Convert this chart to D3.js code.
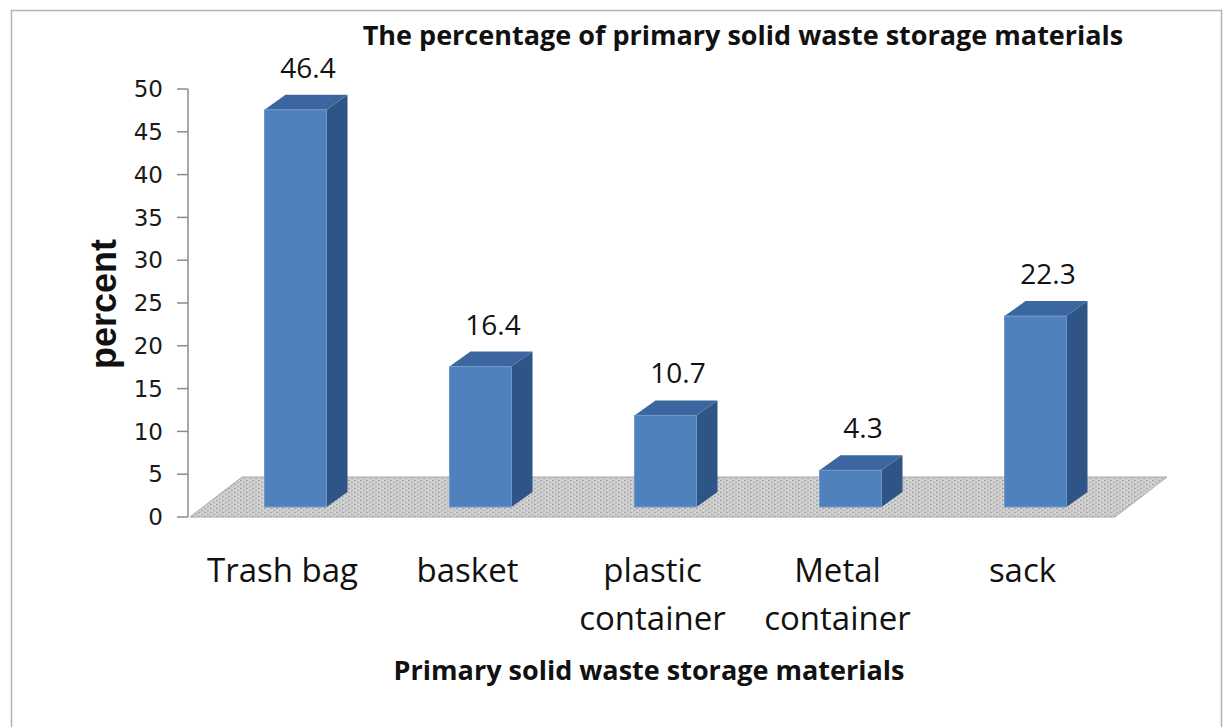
<!DOCTYPE html>
<html>
<head>
<meta charset="utf-8">
<script src="https://cdn.jsdelivr.net/npm/d3@7/dist/d3.min.js"></script>
<style>
  html, body { margin: 0; padding: 0; background: #fff; }
  svg { display: block; }
</style>
</head>
<body>
<svg id="chart" width="1224" height="727"></svg>
<script>
// ---- data ----
const categories = [["Trash bag"], ["basket"], ["plastic", "container"], ["Metal", "container"], ["sack"]];
const values = [46.4, 16.4, 10.7, 4.3, 22.3];
const yTicks = [0, 5, 10, 15, 20, 25, 30, 35, 40, 45, 50];
const chartTitle = "The percentage of primary solid waste storage materials";
const xTitle = "Primary solid waste storage materials";
const yTitle = "percent";

// ---- layout ----
const svg = d3.select("#chart");
const plot = { left: 190, right: 1115, bottom: 517, top: 89 };
const floorDepth = { dx: 52, dy: -40 };      // floor back-edge offset
const barFront = { dx: 13, dy: -10 };        // front face of each bar, inside the floor
const barDepth = { dx: 21, dy: -15 };        // bar thickness in depth
const barWidth = 62;

const x = d3.scaleBand().domain(d3.range(categories.length)).range([plot.left, plot.right]);
const y = d3.scaleLinear().domain([0, 50]).range([plot.bottom, plot.top]);

const colors = { front: "#4f81bd", side: "#2f5586", top: "#3b669f", edge: "#6d98cf" };

// outer frame
svg.append("rect").attr("x", 11.5).attr("y", 10.5).attr("width", 1210).attr("height", 740)
  .attr("fill", "none").attr("stroke", "#b3b3b3").attr("stroke-width", 1.5);

// floor texture
const defs = svg.append("defs");
const pat = defs.append("pattern").attr("id", "floorDots").attr("patternUnits", "userSpaceOnUse")
  .attr("width", 6).attr("height", 4);
pat.append("rect").attr("width", 6).attr("height", 4).attr("fill", "#cbcbcb");
pat.append("rect").attr("x", 0).attr("y", 0).attr("width", 1.5).attr("height", 1).attr("fill", "#9a9a9a");
pat.append("rect").attr("x", 3).attr("y", 2).attr("width", 1.5).attr("height", 1).attr("fill", "#a5a5a5");
pat.append("rect").attr("x", 1.5).attr("y", 2).attr("width", 1.5).attr("height", 1).attr("fill", "#e2e2e2");
pat.append("rect").attr("x", 4.5).attr("y", 0).attr("width", 1.5).attr("height", 1).attr("fill", "#dedede");

const y0 = y(0);
const floorPts = [
  [plot.left, y0], [plot.right, y0],
  [plot.right + floorDepth.dx, y0 + floorDepth.dy], [plot.left + floorDepth.dx, y0 + floorDepth.dy]
];
svg.append("polygon").attr("points", floorPts.map(p => p.join(",")).join(" "))
  .attr("fill", "url(#floorDots)").attr("stroke", "#a8a8a8").attr("stroke-width", 1);

// y axis
const yAxis = svg.append("g");
yAxis.append("line").attr("x1", plot.left - 2).attr("x2", plot.left - 2)
  .attr("y1", y(50)).attr("y2", y(0)).attr("stroke", "#8c8c8c").attr("stroke-width", 1.5);
yAxis.selectAll("line.tick").data(yTicks).join("line").attr("class", "tick")
  .attr("x1", plot.left - 13).attr("x2", plot.left - 2)
  .attr("y1", d => y(d)).attr("y2", d => y(d)).attr("stroke", "#8c8c8c").attr("stroke-width", 1.5);
yAxis.selectAll("text").data(yTicks).join("text")
  .attr("x", plot.left - 27).attr("y", d => y(d)).attr("dy", "0.36em")
  .attr("text-anchor", "end").attr("font-family", "DejaVu Sans").attr("font-size", 23)
  .attr("fill", "#1a1a1a").text(d => d);

// bars
const bars = svg.append("g").selectAll("g").data(values).join("g");
bars.each(function (v, i) {
  const g = d3.select(this);
  const xl = x(i) + x.bandwidth() / 2 - barWidth / 2 + barFront.dx;
  const xr = xl + barWidth;
  const yb = y(0) + barFront.dy;
  const yt = y(v) + barFront.dy;
  const dx = barDepth.dx, dy = barDepth.dy;
  // side face
  g.append("polygon").attr("points", [[xr, yt], [xr + dx, yt + dy], [xr + dx, yb + dy], [xr, yb]].map(p => p.join(",")).join(" "))
    .attr("fill", colors.side);
  // top face
  g.append("polygon").attr("points", [[xl, yt], [xl + dx, yt + dy], [xr + dx, yt + dy], [xr, yt]].map(p => p.join(",")).join(" "))
    .attr("fill", colors.top);
  // front face
  g.append("rect").attr("x", xl).attr("y", yt).attr("width", barWidth).attr("height", yb - yt)
    .attr("fill", colors.front).attr("stroke", colors.edge).attr("stroke-width", 1);
  // value label
  g.append("text").attr("x", (xl + xr) / 2 + dx / 2 + 2).attr("y", yt + dy - 17)
    .attr("text-anchor", "middle").attr("font-family", "Open Sans").attr("font-size", 28)
    .attr("fill", "#111").text(v);
});

// category labels
const cat = svg.append("g");
categories.forEach((lines, i) => {
  const t = cat.append("text").attr("x", x(i) + x.bandwidth() / 2).attr("y", 582)
    .attr("text-anchor", "middle").attr("font-family", "Open Sans").attr("font-size", 33)
    .attr("fill", "#111");
  lines.forEach((s, k) => {
    t.append("tspan").attr("x", x(i) + x.bandwidth() / 2).attr("dy", k === 0 ? 0 : 48).text(s);
  });
});

// titles
svg.append("text").attr("x", 743).attr("y", 45).attr("text-anchor", "middle")
  .attr("font-family", "Open Sans").attr("font-weight", "bold").attr("font-size", 27)
  .attr("fill", "#111").text(chartTitle);
svg.append("text").attr("x", 649).attr("y", 680).attr("text-anchor", "middle")
  .attr("font-family", "Open Sans").attr("font-weight", "bold").attr("font-size", 27)
  .attr("fill", "#111").text(xTitle);
svg.append("text").attr("transform", "translate(116,304) rotate(-90)").attr("text-anchor", "middle")
  .attr("font-family", "Liberation Sans").attr("font-weight", "bold").attr("font-size", 36)
  .attr("fill", "#111").text(yTitle);
</script>
</body>
</html>
